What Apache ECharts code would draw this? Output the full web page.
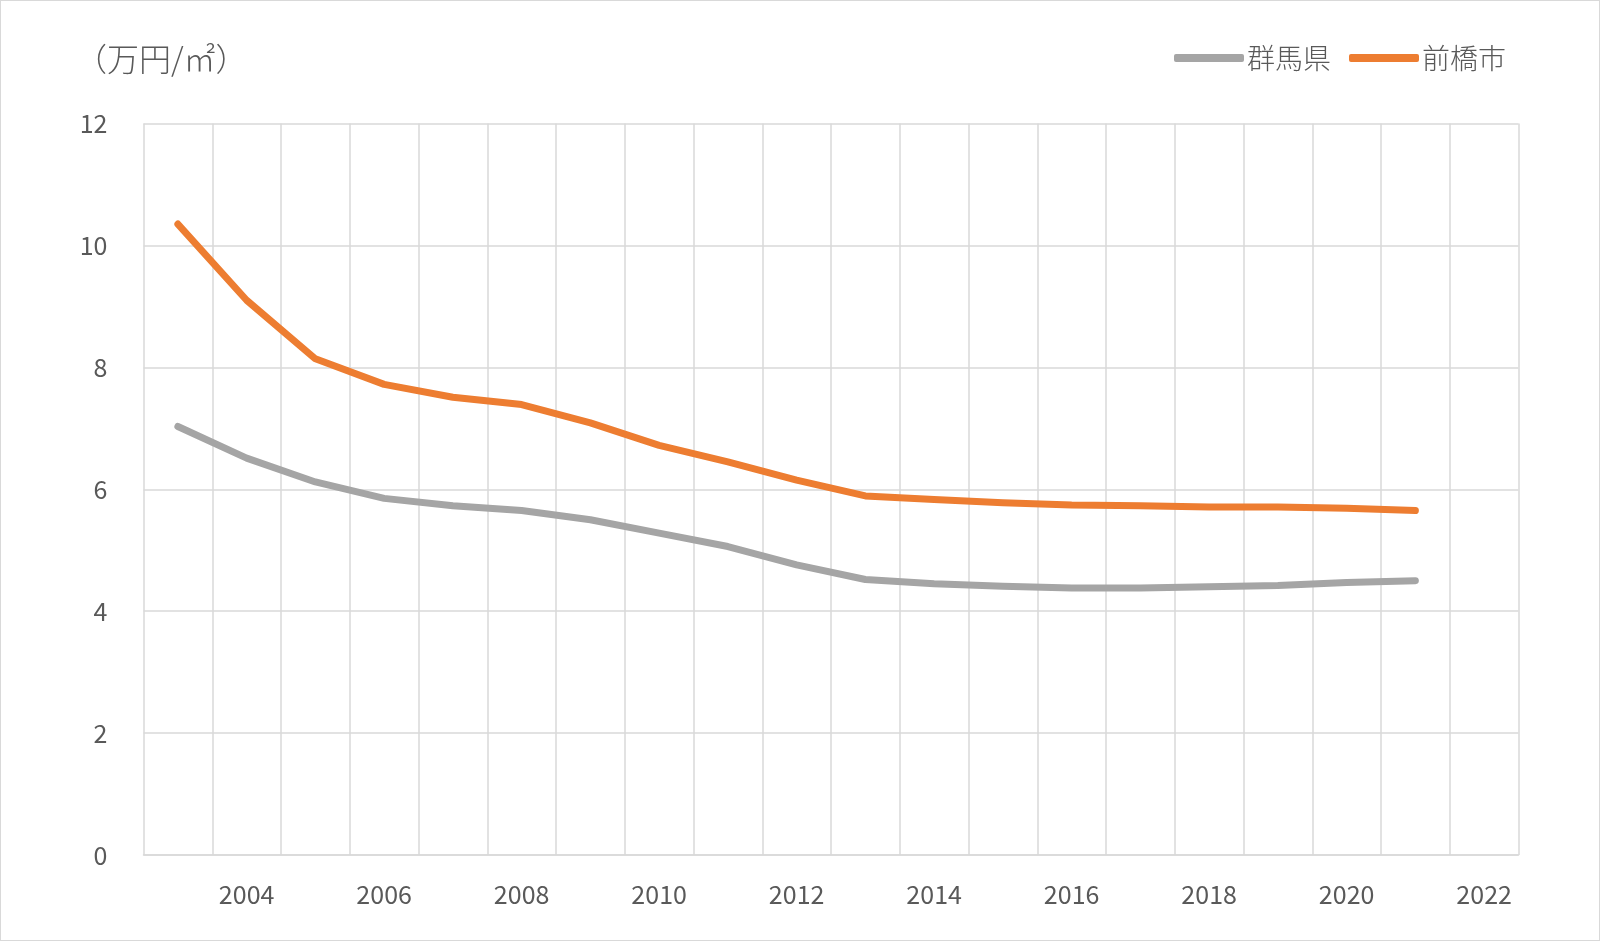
<!DOCTYPE html>
<html>
<head>
<meta charset="utf-8">
<script src="https://cdn.jsdelivr.net/npm/echarts@6/dist/echarts.min.js"></script>
<style>
html,body{margin:0;padding:0;background:#fff;}
#c{width:1600px;height:941px;box-sizing:border-box;border:1px solid #d9d9d9;}
</style>
</head>
<body>
<div id="c"></div>
<script>
const years = ['2003','2004','2005','2006','2007','2008','2009','2010','2011','2012','2013','2014','2015','2016','2017','2018','2019','2020','2021','2022'];
const gunma = [7.03,6.51,6.12,5.85,5.73,5.65,5.50,5.28,5.06,4.76,4.52,4.45,4.41,4.38,4.38,4.40,4.42,4.47,4.50];
const maebashi = [10.35,9.10,8.14,7.72,7.51,7.39,7.09,6.72,6.45,6.15,5.89,5.83,5.78,5.74,5.73,5.71,5.71,5.69,5.65];
const yTicks = {min:0, max:12, interval:2};
const unitLabel = '（万円/㎡）';

const FONT = '"Noto Sans CJK JP", "Noto Sans", sans-serif';
const chart = echarts.init(document.getElementById('c'));
chart.setOption({
  backgroundColor:'#fff',
  animation:false,
  textStyle:{fontFamily:FONT},
  title:{
    text:unitLabel, left:69, top:37,
    textStyle:{fontFamily:FONT, fontSize:32, fontWeight:300, color:'#595959'}
  },
  legend:{
    right:88, top:38,
    itemWidth:70, itemHeight:8, itemGap:18,
    icon:'roundRect',
    textStyle:{fontFamily:FONT, fontSize:28, fontWeight:300, color:'#595959', padding:[0,0,0,-2]},
    data:['群馬県','前橋市']
  },
  grid:{left:142.5, right:80.5, top:122.5, bottom:85, containLabel:false},
  xAxis:{
    type:'category', data:years, boundaryGap:true,
    axisLine:{show:true, lineStyle:{color:'#d9d9d9', width:1.5}},
    axisTick:{show:false},
    axisLabel:{interval:(i)=> i%2===1, color:'#595959', fontSize:25, margin:27, fontFamily:FONT},
    splitLine:{show:true, interval:0, lineStyle:{color:'#d9d9d9', width:1.5}}
  },
  yAxis:{
    type:'value', min:yTicks.min, max:yTicks.max, interval:yTicks.interval,
    axisLine:{show:false}, axisTick:{show:false},
    axisLabel:{color:'#595959', fontSize:25, margin:36, fontFamily:FONT},
    splitLine:{show:true, lineStyle:{color:'#d9d9d9', width:1.5}}
  },
  series:[
    {name:'群馬県', type:'line', data:gunma, symbol:'none', color:'#a5a5a5',
     lineStyle:{width:7, color:'#a5a5a5', cap:'round', join:'round'}},
    {name:'前橋市', type:'line', data:maebashi, symbol:'none', color:'#ed7d31',
     lineStyle:{width:7, color:'#ed7d31', cap:'round', join:'round'}}
  ]
});
</script>
</body>
</html>
